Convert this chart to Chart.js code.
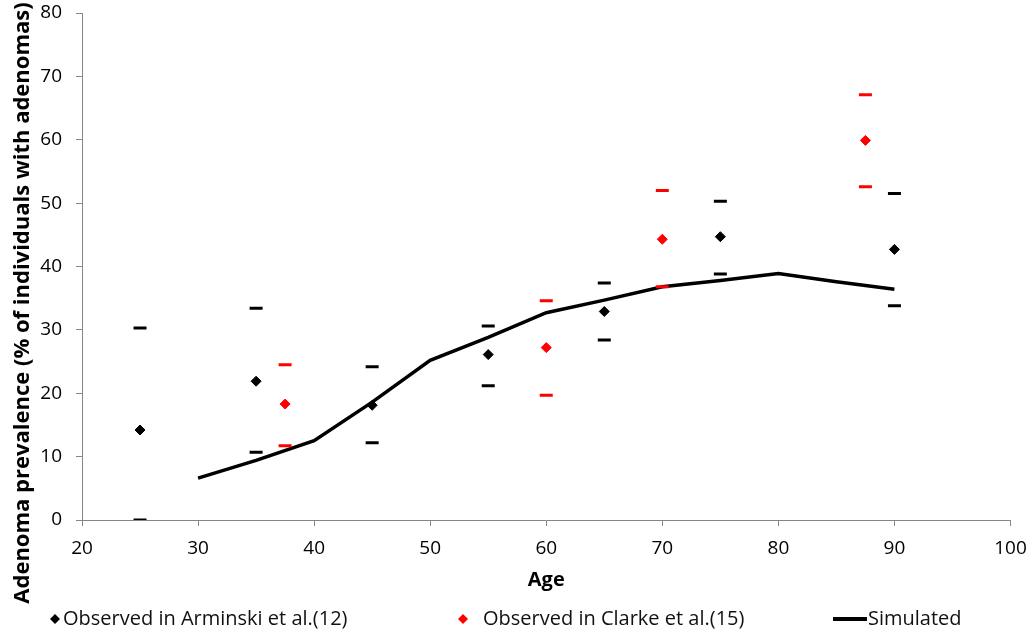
<!DOCTYPE html>
<html lang="en">
<head>
<meta charset="UTF-8">
<title>Adenoma prevalence by age</title>
<script src="https://cdn.jsdelivr.net/npm/chart.js"></script>
<style>
  body { margin: 0; background: #fff; }
  #wrap { position: relative; width: 1031px; height: 635px; }
</style>
</head>
<body>
<div id="wrap"><canvas id="myChart"></canvas></div>
<script>
// values
const ages = [25, 35, 45, 55, 65, 75, 90];
const arminski = [14.2, 21.9, 18.1, 26.1, 32.9, 44.7, 42.7];
const arminskiLow = [0, 10.7, 12.2, 21.2, 28.4, 38.8, 33.8];
const arminskiHigh = [30.3, 33.4, 24.2, 30.6, 37.4, 50.3, 51.5];

const clarkeAges = [37.5, 60, 70, 87.5];
const clarke = [18.3, 27.2, 44.3, 59.9];
const clarkeLow = [11.7, 19.7, 36.8, 52.6];
const clarkeHigh = [24.5, 34.6, 52.0, 67.1];

const simAges = [30, 35, 40, 45, 50, 55, 60, 65, 70, 75, 80, 85, 90];
const simulated = [6.6, 9.4, 12.5, 18.6, 25.2, 28.8, 32.7, 34.7, 36.8, 37.8, 38.9, 37.6, 36.4];

const seriesNames = ['Observed in Arminski et al.(12)', 'Observed in Clarke et al.(15)', 'Simulated'];
const xTitle = 'Age';
const yTitle = 'Adenoma prevalence (% of individuals with adenomas)';

const FONT = '"Open Sans", sans-serif';
const AXIS = '#868686';

function pts(xs, ys) {
  return xs.map((x, i) => ({ x: x, y: ys[i] }));
}

// diamond markers
function markers(label, xs, ys, color) {
  return {
    label: label,
    data: pts(xs, ys),
    pointStyle: 'rectRot',
    pointRadius: 5,
    pointHoverRadius: 5,
    pointBorderWidth: 1,
    borderColor: color,
    backgroundColor: color
  };
}

// short horizontal dashes for the interval ends
function dashes(xs, ys, color) {
  return {
    data: pts(xs, ys),
    pointStyle: 'line',
    pointRadius: 6.5,
    pointHoverRadius: 6.5,
    pointBorderWidth: 3,
    borderColor: color,
    backgroundColor: color
  };
}

// y title and legend row are drawn by hand so they sit where the original has them
const legendSlots = [55, 463, 850];
const extras = {
  id: 'extras',
  afterDraw(chart) {
    const ctx = chart.ctx;

    ctx.save();
    ctx.font = 'bold 22px ' + FONT;
    ctx.fillStyle = '#000';
    ctx.textAlign = 'center';
    ctx.textBaseline = 'middle';
    ctx.translate(23, 303);
    ctx.rotate(-Math.PI / 2);
    ctx.fillText(yTitle, 0, 0);
    ctx.restore();

    ctx.save();
    ctx.font = '20px ' + FONT;
    ctx.textAlign = 'left';
    ctx.textBaseline = 'middle';
    const y = 619;
    chart.data.datasets.filter(d => d.label).forEach((d, i) => {
      const x = legendSlots[i];
      let tx;
      if (d.showLine) {
        ctx.strokeStyle = d.borderColor;
        ctx.lineWidth = 4;
        ctx.beginPath();
        ctx.moveTo(x - 17, y);
        ctx.lineTo(x + 17, y);
        ctx.stroke();
        tx = x + 18;
      } else {
        ctx.fillStyle = d.backgroundColor;
        ctx.beginPath();
        ctx.moveTo(x, y - 5);
        ctx.lineTo(x + 5, y);
        ctx.lineTo(x, y + 5);
        ctx.lineTo(x - 5, y);
        ctx.closePath();
        ctx.fill();
        tx = x + 8 + (i === 1 ? 12 : 0);
      }
      ctx.fillStyle = '#111';
      ctx.fillText(d.label, tx, y);
    });
    ctx.restore();
  }
};

const ctx = document.getElementById('myChart').getContext('2d');

new Chart(ctx, {
  type: 'scatter',
  data: {
    datasets: [
      markers(seriesNames[0], ages, arminski, '#000000'),
      markers(seriesNames[1], clarkeAges, clarke, '#ff0000'),
      dashes(ages, arminskiLow, '#000000'),
      dashes(ages, arminskiHigh, '#000000'),
      dashes(clarkeAges, clarkeLow, '#ff0000'),
      dashes(clarkeAges, clarkeHigh, '#ff0000'),
      {
        label: seriesNames[2],
        data: pts(simAges, simulated),
        showLine: true,
        borderColor: '#000000',
        backgroundColor: '#000000',
        borderWidth: 3.5,
        pointRadius: 0,
        pointHoverRadius: 0,
        tension: 0
      }
    ]
  },
  options: {
    responsive: true,
    maintainAspectRatio: false,
    animation: false,
    layout: { padding: { top: 13, right: 20.5, bottom: 35, left: 0 } },
    plugins: {
      legend: { display: false },
      tooltip: { enabled: false }
    },
    scales: {
      x: {
        type: 'linear',
        min: 20,
        max: 100,
        afterFit: s => { s.height = 80; s.paddingLeft = 0; s.paddingRight = 0; },
        ticks: { stepSize: 10, padding: 11, color: '#000', font: { family: FONT, size: 19 } },
        grid: { drawOnChartArea: false, tickLength: 6, color: AXIS },
        border: { color: AXIS },
        title: {
          display: true,
          text: xTitle,
          color: '#000',
          font: { family: FONT, size: 20, weight: 'bold' },
          padding: { top: 0, bottom: 8 }
        }
      },
      y: {
        min: 0,
        max: 80,
        afterFit: s => { s.width = 82; s.paddingTop = 0; s.paddingBottom = 0; },
        ticks: { stepSize: 10, padding: 14, color: '#000', font: { family: FONT, size: 19 } },
        grid: { drawOnChartArea: false, tickLength: 6, color: AXIS },
        border: { color: AXIS }
      }
    }
  },
  plugins: [extras]
});
</script>
</body>
</html>
